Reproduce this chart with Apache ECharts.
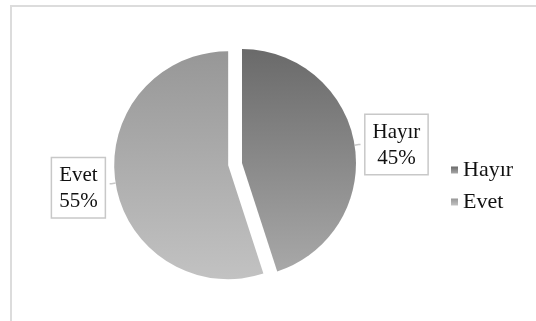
<!DOCTYPE html>
<html>
<head>
<meta charset="utf-8">
<script src="https://cdn.jsdelivr.net/npm/echarts@6/dist/echarts.min.js"></script>
<style>
  html, body { margin: 0; padding: 0; background: #fff; }
  #wrap { position: relative; width: 536px; height: 321px; overflow: hidden; }
  #frame { position: absolute; left: 10px; top: 5px; width: 600px; height: 400px;
           border-top: 2px solid #dcdcdc; border-left: 2px solid #dcdcdc; }
  #chart { position: absolute; left: 0; top: 0; width: 536px; height: 321px; }
</style>
</head>
<body>
<div id="wrap">
  <div id="frame"></div>
  <div id="chart"></div>
</div>
<script>
// Answer categories and their shares (percent)
const categories = ['Hayır', 'Evet'];
const shares = [45, 55];
const explodedCategory = 'Evet';

// Vertical grey gradients per slice: [top, bottom]
const sliceShades = {
  'Hayır': ['#6a6a6a', '#a8a8a8'],
  'Evet': ['#979797', '#c2c2c2']
};

function shade(name) {
  const s = sliceShades[name];
  return new echarts.graphic.LinearGradient(0, 0, 0, 1, [
    { offset: 0, color: s[0] },
    { offset: 1, color: s[1] }
  ]);
}

const serif = '"Liberation Serif", "Times New Roman", serif';

const chart = echarts.init(document.getElementById('chart'), null, { renderer: 'canvas' });

chart.setOption({
  animation: false,
  backgroundColor: 'transparent',
  legend: {
    orient: 'vertical',
    left: 446,
    top: 154,
    itemWidth: 7,
    itemHeight: 7,
    itemGap: 10,
    icon: 'rect',
    data: categories,
    textStyle: { fontFamily: serif, fontSize: 22, color: '#111' }
  },
  series: [{
    type: 'pie',
    center: [242, 163],
    radius: 114,
    startAngle: 90,
    clockwise: true,
    selectedMode: 'single',
    selectedOffset: 14,
    silent: true,
    emphasis: { disabled: true },
    label: {
      show: true,
      position: 'outside',
      formatter: p => '{t|' + p.name + '}\n{t|' + Math.round(p.percent) + '%}',
      backgroundColor: '#fff',
      borderColor: '#c8c8c8',
      borderWidth: 1.5,
      padding: [4, 7, 3, 7],
      rich: {
        t: {
          fontFamily: serif,
          fontSize: 21,
          lineHeight: 26,
          color: '#111',
          align: 'center'
        }
      }
    },
    labelLine: {
      show: true,
      length: 4,
      length2: 2,
      lineStyle: { color: '#c8c8c8', width: 1.5 }
    },
    labelLayout: p => (p.dataIndex === 1 ? { dy: 4 } : {}),
    data: categories.map((c, i) => ({
      name: c,
      value: shares[i],
      selected: c === explodedCategory,
      itemStyle: { color: shade(c) }
    }))
  }]
});
</script>
</body>
</html>
